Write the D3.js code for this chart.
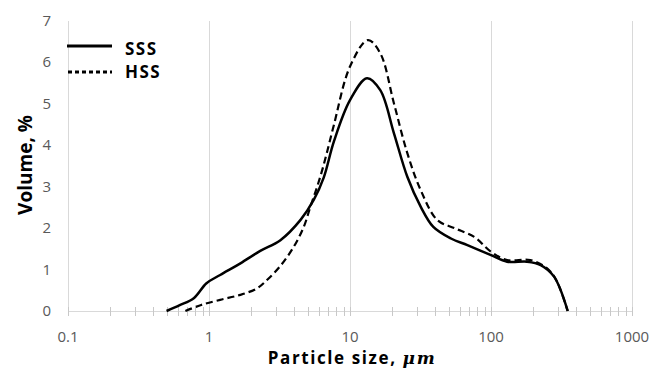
<!DOCTYPE html>
<html>
<head>
<meta charset="utf-8">
<script src="https://cdnjs.cloudflare.com/ajax/libs/d3/7.8.5/d3.min.js"></script>
<style>
  body { margin: 0; background: #fff; }
  text { font-family: "Open Sans", "Noto Sans", sans-serif; }
</style>
</head>
<body>
<script>
// particle size (um) and volume (%)
var sssSize = [0.5, 0.62, 0.78, 0.96, 1.2, 1.67, 2.31, 3.21, 4.46, 5.53, 6.51, 7.7, 10, 13.2, 16.4, 20.5, 25.5, 31.7, 39, 52, 68, 100, 130, 180, 225, 280, 350];
var sssVol  = [0, 0.14, 0.31, 0.67, 0.87, 1.15, 1.45, 1.71, 2.2, 2.68, 3.22, 4.1, 5.09, 5.62, 5.33, 4.29, 3.24, 2.52, 2.03, 1.75, 1.59, 1.35, 1.19, 1.19, 1.11, 0.83, 0];
var hssSize = [0.68, 0.87, 1.2, 1.67, 2.2, 2.6, 3.21, 3.99, 4.7, 5.24, 5.85, 6.35, 6.89, 7.7, 10, 13.4, 16.4, 20.5, 25.5, 31.7, 41.5, 55, 76, 100, 130, 190, 250, 290, 350];
var hssVol  = [0, 0.14, 0.27, 0.39, 0.55, 0.76, 1.09, 1.55, 2.03, 2.52, 3.0, 3.4, 3.85, 4.5, 5.9, 6.54, 6.22, 5.01, 3.81, 2.92, 2.2, 2.0, 1.79, 1.43, 1.23, 1.23, 1.03, 0.75, 0];
var seriesNames = ["SSS", "HSS"];
var xTicks = [0.1, 1, 10, 100, 1000];
var yTicks = [0, 1, 2, 3, 4, 5, 6, 7];

var W = 654, H = 368;
var svg = d3.select("body").append("svg").attr("width", W).attr("height", H);

var x = d3.scaleLog().domain([0.1, 1000]).range([68, 632]);
var y = d3.scaleLinear().domain([0, 7]).range([311, 21]);

// vertical gridlines at decades
svg.append("g").selectAll("line").data(xTicks).enter().append("line")
    .attr("x1", function(d) { return Math.round(x(d)) + 0.5; })
    .attr("x2", function(d) { return Math.round(x(d)) + 0.5; })
    .attr("y1", y(7)).attr("y2", y(0))
    .attr("stroke", "#d9d9d9").attr("stroke-width", 1);

// x axis line with minor ticks crossing it
var minor = [];
xTicks.slice(0, -1).forEach(function(t) {
    for (var k = 2; k <= 9; k++) minor.push(t * k);
});
svg.append("line")
    .attr("x1", x(0.1)).attr("x2", x(1000))
    .attr("y1", y(0) + 0.5).attr("y2", y(0) + 0.5)
    .attr("stroke", "#d9d9d9").attr("stroke-width", 1);
svg.append("g").selectAll("line").data(minor.concat(xTicks)).enter().append("line")
    .attr("x1", function(d) { return Math.round(x(d)) + 0.5; })
    .attr("x2", function(d) { return Math.round(x(d)) + 0.5; })
    .attr("y1", y(0) - 4).attr("y2", y(0) + 5)
    .attr("stroke", "#c8c8c8").attr("stroke-width", 1);

// tick labels
svg.append("g").selectAll("text").data(xTicks).enter().append("text")
    .attr("x", function(d) { return x(d); })
    .attr("y", 342)
    .attr("text-anchor", "middle")
    .attr("font-size", 15).attr("fill", "#595959")
    .text(function(d) { return d; });

svg.append("g").selectAll("text").data(yTicks).enter().append("text")
    .attr("x", 51)
    .attr("y", function(d) { return y(d) + 5; })
    .attr("text-anchor", "end")
    .attr("font-size", 15).attr("fill", "#595959")
    .text(function(d) { return d; });

// axis titles
var xt = svg.append("text")
    .attr("x", 352).attr("y", 364)
    .attr("text-anchor", "middle")
    .attr("font-size", 17).attr("font-weight", "bold").attr("fill", "#000")
    .attr("letter-spacing", 1.6);
xt.append("tspan").text("Particle size, ");
xt.append("tspan").attr("font-style", "italic").attr("font-family", "DejaVu Serif, serif").text("μm");

svg.append("text")
    .attr("transform", "translate(32,165) rotate(-90)")
    .attr("text-anchor", "middle")
    .attr("font-size", 19).attr("font-weight", "bold").attr("fill", "#000")
    .text("Volume, %");

// curves
var line = d3.line()
    .x(function(d) { return x(d[0]); })
    .y(function(d) { return y(d[1]); })
    .curve(d3.curveCatmullRom.alpha(0.5));

var sss = d3.zip(sssSize, sssVol);
var hss = d3.zip(hssSize, hssVol);

svg.append("path").datum(hss)
    .attr("d", line)
    .attr("fill", "none").attr("stroke", "#000")
    .attr("stroke-width", 2.2).attr("stroke-dasharray", "7,4");

svg.append("path").datum(sss)
    .attr("d", line)
    .attr("fill", "none").attr("stroke", "#000")
    .attr("stroke-width", 2.5);

// legend
var legend = svg.append("g");
legend.append("line")
    .attr("x1", 67).attr("x2", 112).attr("y1", 46).attr("y2", 46)
    .attr("stroke", "#000").attr("stroke-width", 3);
legend.append("line")
    .attr("x1", 68).attr("x2", 112).attr("y1", 72).attr("y2", 72)
    .attr("stroke", "#000").attr("stroke-width", 3).attr("stroke-dasharray", "4,3");
legend.selectAll("text").data(seriesNames).enter().append("text")
    .attr("x", 125)
    .attr("y", function(d, i) { return 55 + i * 23; })
    .attr("font-size", 17).attr("font-weight", "bold").attr("fill", "#000")
    .attr("letter-spacing", 1.5)
    .text(function(d) { return d; });
</script>
</body>
</html>
